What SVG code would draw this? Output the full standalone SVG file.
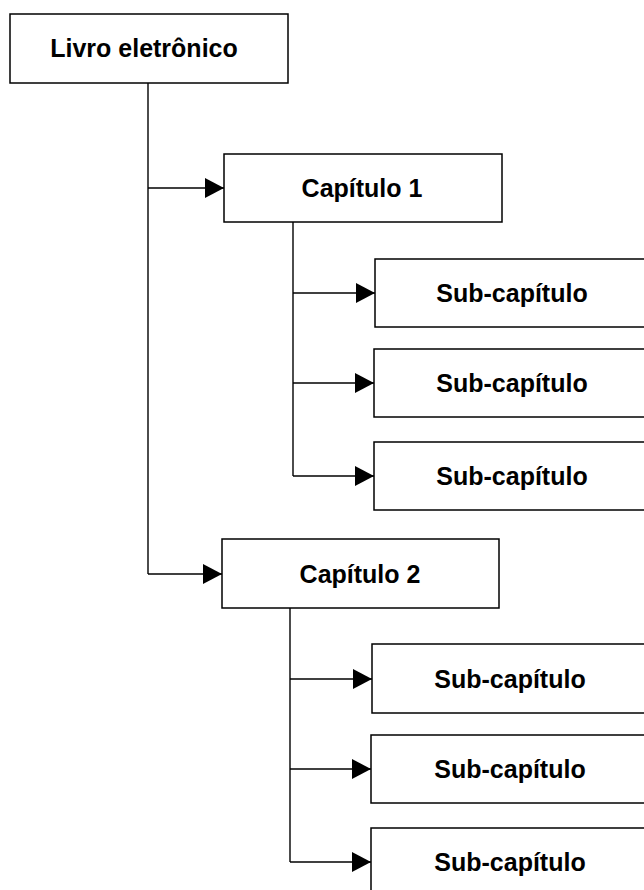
<svg xmlns="http://www.w3.org/2000/svg" width="644" height="890" viewBox="0 0 644 890">
<style>
.box{fill:#fff;stroke:#000;stroke-width:1.5}
.lbl{font-family:"Liberation Sans",Arial,sans-serif;font-weight:bold;font-size:25px;fill:#000;text-anchor:middle}
.con{fill:none;stroke:#000;stroke-width:1.4}
</style>
<defs>
<marker id="ah" markerUnits="userSpaceOnUse" markerWidth="22" markerHeight="22" refX="19" refY="10" orient="auto">
<path d="M0,0 L19,10 L0,20 z" fill="#000"/>
</marker>
</defs>
<rect width="644" height="890" fill="#fff"/>
<g id="connectors">
<path class="con" d="M148,83 V574"/>
<path class="con" d="M148,188 H224" marker-end="url(#ah)"/>
<path class="con" d="M148,574 H222" marker-end="url(#ah)"/>
<path class="con" d="M293,222 V476"/>
<path class="con" d="M293,293 H375" marker-end="url(#ah)"/>
<path class="con" d="M293,383 H374" marker-end="url(#ah)"/>
<path class="con" d="M293,476 H374" marker-end="url(#ah)"/>
<path class="con" d="M290,608 V862"/>
<path class="con" d="M290,679 H372" marker-end="url(#ah)"/>
<path class="con" d="M290,769 H371" marker-end="url(#ah)"/>
<path class="con" d="M290,862 H371" marker-end="url(#ah)"/>
</g>
<g id="livro"><rect class="box" x="10" y="14" width="278" height="69"/><text class="lbl" x="144" y="57">Livro eletrônico</text></g>
<g id="cap1"><rect class="box" x="224" y="154" width="278" height="68"/><text class="lbl" x="362" y="197">Capítulo 1</text></g>
<g id="sub1"><rect class="box" x="375" y="259" width="290" height="68"/><text class="lbl" x="512" y="302">Sub-capítulo</text></g>
<g id="sub2"><rect class="box" x="374" y="349" width="290" height="68"/><text class="lbl" x="512" y="392">Sub-capítulo</text></g>
<g id="sub3"><rect class="box" x="374" y="442" width="290" height="68"/><text class="lbl" x="512" y="485">Sub-capítulo</text></g>
<g id="cap2"><rect class="box" x="222" y="539" width="277" height="69"/><text class="lbl" x="360" y="583">Capítulo 2</text></g>
<g id="sub4"><rect class="box" x="372" y="644" width="290" height="69"/><text class="lbl" x="510" y="688">Sub-capítulo</text></g>
<g id="sub5"><rect class="box" x="371" y="735" width="290" height="68"/><text class="lbl" x="510" y="778">Sub-capítulo</text></g>
<g id="sub6"><rect class="box" x="371" y="828" width="290" height="70"/><text class="lbl" x="510" y="871">Sub-capítulo</text></g>
</svg>
